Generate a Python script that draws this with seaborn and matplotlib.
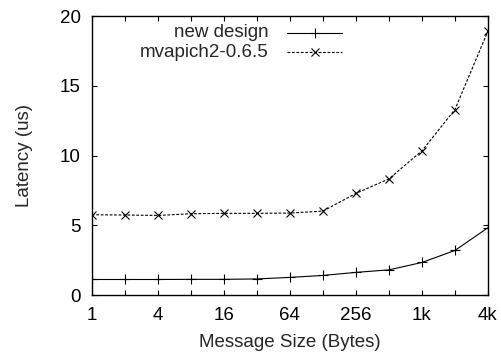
import matplotlib
matplotlib.use("Agg")
import matplotlib.pyplot as plt
import seaborn as sns
import pandas as pd
from matplotlib.lines import Line2D

sizes = [1, 2, 4, 8, 16, 32, 64, 128, 256, 512, 1024, 2048, 4096]
new_design = [1.12, 1.12, 1.12, 1.13, 1.13, 1.16, 1.27, 1.41, 1.63, 1.81, 2.34, 3.2, 4.83]
mvapich = [5.76, 5.74, 5.71, 5.83, 5.86, 5.86, 5.88, 6.02, 7.29, 8.33, 10.34, 13.3, 18.92]
series_names = ["new design", "mvapich2-0.6.5"]
tick_labels = ["1", "", "4", "", "16", "", "64", "", "256", "", "1k", "", "4k"]
y_ticks = [0, 5, 10, 15, 20]

sns.set_theme(style="ticks")
plt.rcParams['font.family'] = ['Liberation Sans', 'DejaVu Sans']
FS = 13.5
plt.rcParams['font.size'] = FS

fig = plt.figure(figsize=(5.02, 3.56), dpi=100)
ax = fig.add_axes([0.183, 0.171, 0.789, 0.784])

df = pd.DataFrame({"size": sizes * 2,
                   "lat": new_design + mvapich,
                   "series": [series_names[0]] * len(sizes) + [series_names[1]] * len(sizes)})

sns.lineplot(data=df[df.series == series_names[0]], x="size", y="lat", ax=ax,
             color="black", lw=0.8, marker="+", markersize=7, markeredgewidth=0.8,
             markeredgecolor="black", legend=False)
sns.lineplot(data=df[df.series == series_names[1]], x="size", y="lat", ax=ax,
             color="black", lw=0.8, marker="x", markersize=6, markeredgewidth=0.8,
             markeredgecolor="black", legend=False, linestyle=(0, (2.5, 1.5)))

ax.set_xscale("log", base=2)
ax.set_xlim(1, 4096)
ax.set_ylim(0, 20)
ax.set_xticks(sizes)
ax.set_xticklabels(tick_labels)
ax.minorticks_off()
ax.set_yticks(y_ticks)
ax.set_yticklabels([str(v) for v in y_ticks])
ax.tick_params(direction="in", length=3.5, width=0.8, top=True, right=True,
               labelsize=FS, colors="black")
ax.tick_params(axis="y", pad=8)
ax.tick_params(axis="x", pad=8.5)
for s in ax.spines.values():
    s.set_linewidth(1.0)
    s.set_color("black")
    s.set_visible(True)

ax.set_xlabel("Message Size (Bytes)", fontsize=FS, labelpad=7)
ax.set_ylabel("Latency (us)", fontsize=FS, labelpad=19)

# gnuplot-style legend (text right-aligned, sample to the right)
rows = [(0.94, "+", "-"), (0.87, "x", (0, (2.5, 1.5)))]
for name, (yy, mk, ls) in zip(series_names, rows):
    ax.text(0.447, yy, name, transform=ax.transAxes, ha="right", va="center", fontsize=FS)
    ax.add_line(Line2D([0.492, 0.631], [yy, yy], transform=ax.transAxes,
                       color="black", lw=0.8, linestyle=ls))
    ax.add_line(Line2D([0.563], [yy], transform=ax.transAxes, color="black",
                       marker=mk, markersize=7 if mk == "+" else 6,
                       markeredgewidth=0.8, linestyle="none"))

fig.savefig("out.png", dpi=100)
